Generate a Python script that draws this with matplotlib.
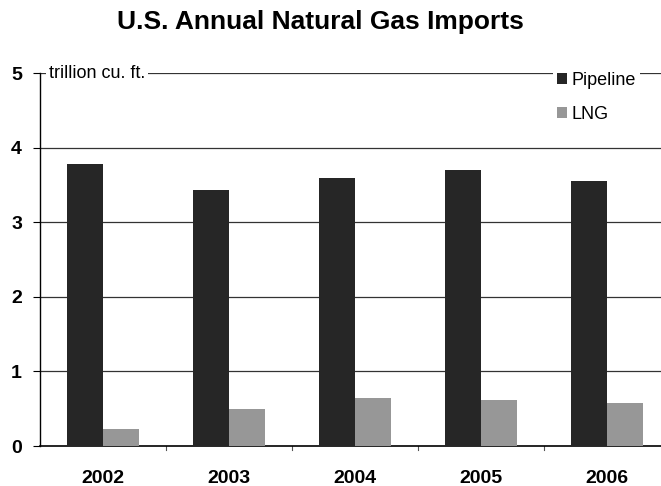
import numpy as np
import matplotlib
matplotlib.use("Agg")
from matplotlib import pyplot as plt

plt.rcParams['font.family'] = ['Liberation Sans', 'DejaVu Sans']

years = ['2002', '2003', '2004', '2005', '2006']
pipeline = [3.78, 3.43, 3.59, 3.70, 3.55]
lng = [0.23, 0.50, 0.64, 0.62, 0.58]

fig = plt.figure(figsize=(6.61, 4.86), dpi=100)
ax = fig.add_axes([40/661, 40/486, 1 - 40/661, 373/486])

x = np.arange(len(years))
w = 0.286
ax.bar(x - w/2, pipeline, w, color='#262626', label='Pipeline', zorder=3)
ax.bar(x + w/2, lng, w, color='#979797', label='LNG', zorder=3)

ax.set_ylim(0, 5)
ax.set_xlim(-0.5, -0.5 + 621/126)
ax.set_yticks([0, 1, 2, 3, 4, 5])
ax.set_yticklabels(['0', '1', '2', '3', '4', '5'], fontsize=14, fontweight='bold')
for yv in [1, 2, 3, 4, 5]:
    ax.axhline(yv, color='#333333', lw=0.9, zorder=1)

# year labels centered, ticks at category boundaries
ax.set_xticks(x)
ax.set_xticklabels(years, fontsize=14, fontweight='bold')
ax.tick_params(axis='x', length=0, pad=17)
for b in np.arange(-0.5, 5, 1.0)[1:]:
    ax.plot([b, b], [0, -0.06], color='#555555', lw=0.8, clip_on=False)
ax.tick_params(axis='y', length=5, width=0.8, pad=8)

for s in ['top', 'right']:
    ax.spines[s].set_visible(False)
ax.spines['left'].set_linewidth(1.0)
ax.spines['bottom'].set_linewidth(1.2)

ax.text(0.014, 5, 'trillion cu. ft.', transform=ax.get_yaxis_transform(), fontsize=13,
        va='center', ha='left', zorder=4,
        bbox=dict(facecolor='white', edgecolor='none', pad=2))

leg = ax.legend(loc='upper left', bbox_to_anchor=(553/661, 1 - 68/486), bbox_transform=fig.transFigure,
                frameon=True, fontsize=13, handlelength=0.55, handleheight=0.55, handletextpad=0.3,
                labelspacing=0.95, borderpad=0.2, borderaxespad=0)
leg.get_frame().set_facecolor('white')
leg.get_frame().set_edgecolor('none')
leg.get_frame().set_alpha(1)
leg.set_zorder(5)

fig.suptitle('U.S. Annual Natural Gas Imports', x=0.485, y=1 - 10/486, va='top',
             fontsize=19, fontweight='bold')

fig.savefig('out.png', dpi=100)
